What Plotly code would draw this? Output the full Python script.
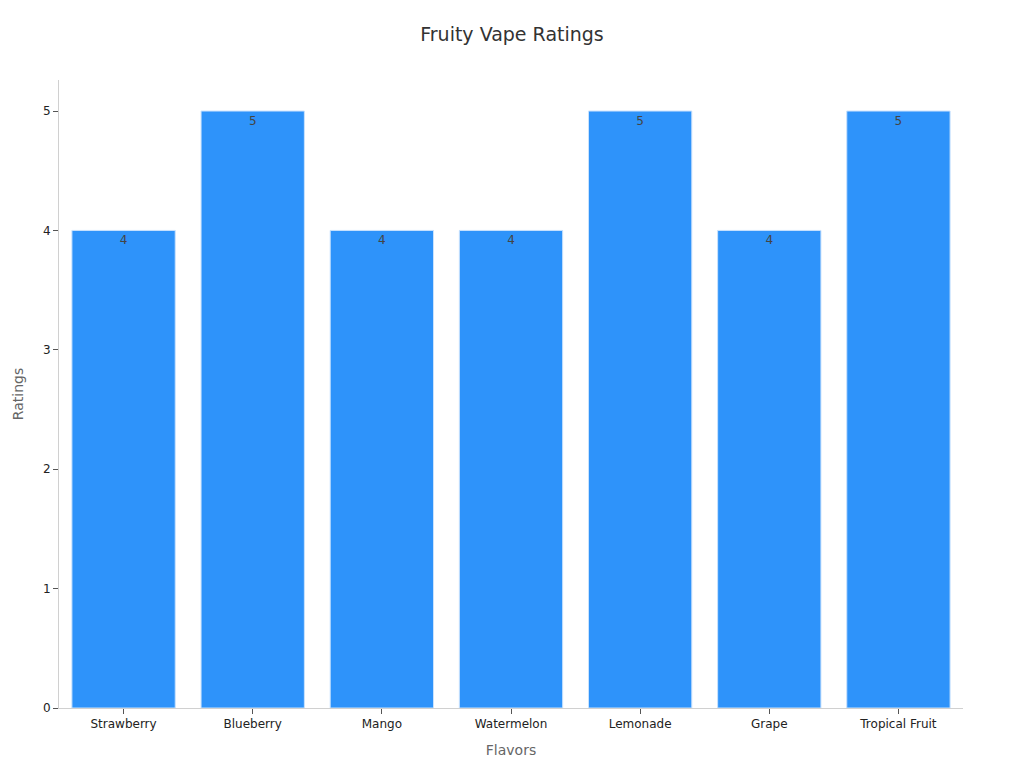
import plotly.graph_objects as go

flavors = ['Strawberry', 'Blueberry', 'Mango', 'Watermelon', 'Lemonade', 'Grape', 'Tropical Fruit']
ratings = [4, 5, 4, 4, 5, 4, 5]

fig = go.Figure(data=[go.Bar(
    x=flavors,
    y=ratings,
    text=ratings,
    textposition='inside',
    insidetextanchor='end',
    textfont=dict(family='DejaVu Sans', size=12, color='#444444'),
    marker=dict(color='#2E93FA', line=dict(color='#C9E2FD', width=1)),
)])

fig.update_layout(
    title=dict(
        text='Fruity Vape Ratings',
        font=dict(family='DejaVu Sans', size=19, color='#333333'),
        x=0.5,
        y=0.964,
        xanchor='center',
        yanchor='top',
    ),
    width=1024,
    height=768,
    bargap=0.2,
    font=dict(family='DejaVu Sans', color='#333333'),
    xaxis=dict(
        title=dict(text='Flavors', font=dict(size=14, color='#666666'), standoff=14),
        showline=True, linecolor='#d0d0d0', linewidth=1,
        ticks='outside', tickcolor='#555555', ticklen=5,
        tickfont=dict(size=12, color='#222222'),
    ),
    yaxis=dict(
        title=dict(text='Ratings', font=dict(size=14, color='#666666'), standoff=16),
        range=[0, 5.26],
        dtick=1,
        showgrid=False,
        zeroline=False,
        showline=True, linecolor='#d0d0d0', linewidth=1,
        ticks='outside', tickcolor='#555555', ticklen=5,
        tickfont=dict(size=12, color='#222222'),
    ),
    margin=dict(l=59, r=61, t=80, b=60),
    paper_bgcolor='white',
    plot_bgcolor='white',
    showlegend=False,
)

# page has a default body margin; drop it so the figure sits at 0,0
fig.write_html('out.html', config={'displayModeBar': False},
               post_script="document.body.style.margin='0';")
